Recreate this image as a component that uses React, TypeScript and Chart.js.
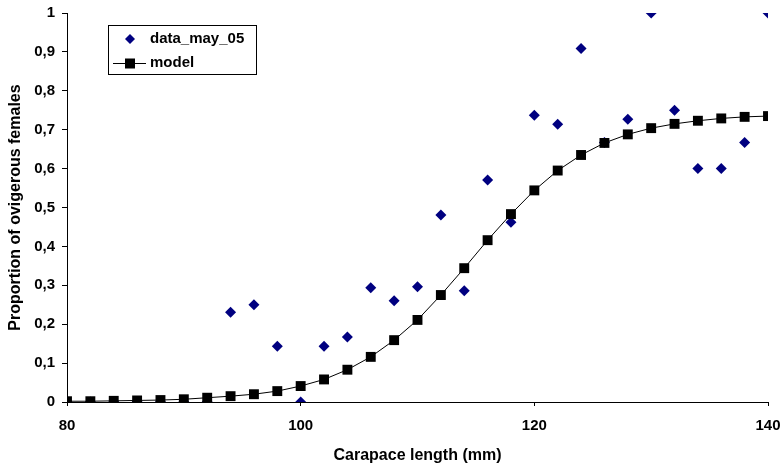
import React, { useEffect, useRef } from "react";
import { Chart, registerables } from "chart.js";

Chart.register(...registerables);

const lengths = [80, 82, 84, 86, 88, 90, 92, 94, 96, 98, 100, 102, 104, 106, 108, 110, 112, 114, 116, 118, 120, 122, 124, 126, 128, 130, 132, 134, 136, 138, 140];
const observed = [0, 0, 0, 0, 0, 0, 0, 0.231, 0.25, 0.143, 0, 0.143, 0.167, 0.294, 0.26, 0.296, 0.481, 0.286, 0.571, 0.462, 0.737, 0.714, 0.909, 0.667, 0.727, 1, 0.75, 0.6, 0.6, 0.667, 1];
const model = [0.002, 0.002, 0.003, 0.004, 0.005, 0.007, 0.011, 0.015, 0.02, 0.028, 0.041, 0.058, 0.083, 0.116, 0.159, 0.211, 0.275, 0.344, 0.416, 0.483, 0.544, 0.595, 0.635, 0.666, 0.688, 0.704, 0.715, 0.723, 0.729, 0.733, 0.735];
const seriesNames = ["data_may_05", "model"];
const xTitle = "Carapace length (mm)";
const yTitle = "Proportion of ovigerous females";

const FONT = "Arial, 'Liberation Sans', sans-serif";
const NAVY = "#000080";

const legendPlugin = {
  id: "boxLegend",
  afterDraw(chart: any) {
    const ctx = chart.ctx;
    ctx.save();
    const x0 = 108.5, y0 = 25.5, w = 148, h = 49;
    ctx.fillStyle = "#fff";
    ctx.fillRect(x0, y0, w, h);
    ctx.strokeStyle = "#000";
    ctx.lineWidth = 1;
    ctx.strokeRect(x0, y0, w, h);
    const r1 = 39, r2 = 63;
    ctx.fillStyle = NAVY;
    ctx.beginPath();
    ctx.moveTo(130, r1 - 5);
    ctx.lineTo(135, r1);
    ctx.lineTo(130, r1 + 5);
    ctx.lineTo(125, r1);
    ctx.closePath();
    ctx.fill();
    ctx.strokeStyle = "#000";
    ctx.beginPath();
    ctx.moveTo(113, r2 + 0.5);
    ctx.lineTo(146, r2 + 0.5);
    ctx.stroke();
    ctx.fillStyle = "#000";
    ctx.fillRect(125, r2 - 4.5, 10, 10);
    ctx.font = `bold 15px ${FONT}`;
    ctx.textBaseline = "middle";
    ctx.textAlign = "left";
    ctx.fillText(seriesNames[0], 150, r1);
    ctx.fillText(seriesNames[1], 150, r2);
    ctx.restore();
  },
};

function fmt(v: number) {
  if (Math.abs(v) < 1e-9) return "0";
  if (Math.abs(v - 1) < 1e-9) return "1";
  return v.toFixed(1).replace(".", ",");
}

export default function App() {
  const ref = useRef<HTMLCanvasElement>(null);
  useEffect(() => {
    document.body.style.margin = "0";
    const canvas = ref.current!;
    const chart = new Chart(canvas, {
      type: "scatter",
      data: {
        datasets: [
          {
            label: seriesNames[0],
            data: lengths.map((x, i) => ({ x, y: observed[i] })),
            pointStyle: "rectRot",
            pointRadius: 5.5,
            backgroundColor: NAVY,
            borderColor: NAVY,
            borderWidth: 0,
            showLine: false,
            order: 2,
          },
          {
            label: seriesNames[1],
            data: lengths.map((x, i) => ({ x, y: model[i] })),
            pointStyle: "rect",
            pointRadius: 7,
            backgroundColor: "#000",
            borderColor: "#000",
            borderWidth: 1,
            pointBorderWidth: 0,
            showLine: true,
            tension: 0,
            order: 1,
          } as any,
        ],
      },
      options: {
        responsive: false,
        animation: false,
        maintainAspectRatio: false,
        layout: { padding: { left: 0, top: 13, right: 14, bottom: 0 } },
        plugins: { legend: { display: false }, tooltip: { enabled: false } },
        scales: {
          x: {
            type: "linear",
            min: 80,
            max: 140,
            afterFit: (s: any) => { s.height = 66; s.paddingLeft = 0; s.paddingRight = 0; },
            ticks: { stepSize: 20, color: "#000", padding: 11, font: { family: FONT, size: 15, weight: "bold" } },
            grid: { drawOnChartArea: false, drawTicks: true, tickLength: 4, color: "#000" },
            border: { display: true, color: "#000", width: 1 },
            title: { display: true, text: xTitle, color: "#000", padding: { top: 0, bottom: 3 }, font: { family: FONT, size: 16, weight: "bold" } },
          },
          y: {
            type: "linear",
            min: 0,
            max: 1,
            afterFit: (s: any) => { s.width = 67; s.paddingTop = 0; s.paddingBottom = 0; },
            ticks: { stepSize: 0.1, color: "#000", padding: 7, callback: (v: any) => fmt(Number(v)), font: { family: FONT, size: 15, weight: "bold" } },
            grid: { drawOnChartArea: false, drawTicks: true, tickLength: 5, color: "#000" },
            border: { display: true, color: "#000", width: 1 },
            title: { display: true, text: yTitle, color: "#000", padding: { top: 6, bottom: 0 }, font: { family: FONT, size: 16, weight: "bold" } },
          },
        },
      },
      plugins: [legendPlugin],
    } as any);
    return () => chart.destroy();
  }, []);
  return (
    <div style={{ width: 782, height: 468, background: "#fff" }}>
      <canvas ref={ref} width={782} height={468} style={{ display: "block" }} />
    </div>
  );
}
